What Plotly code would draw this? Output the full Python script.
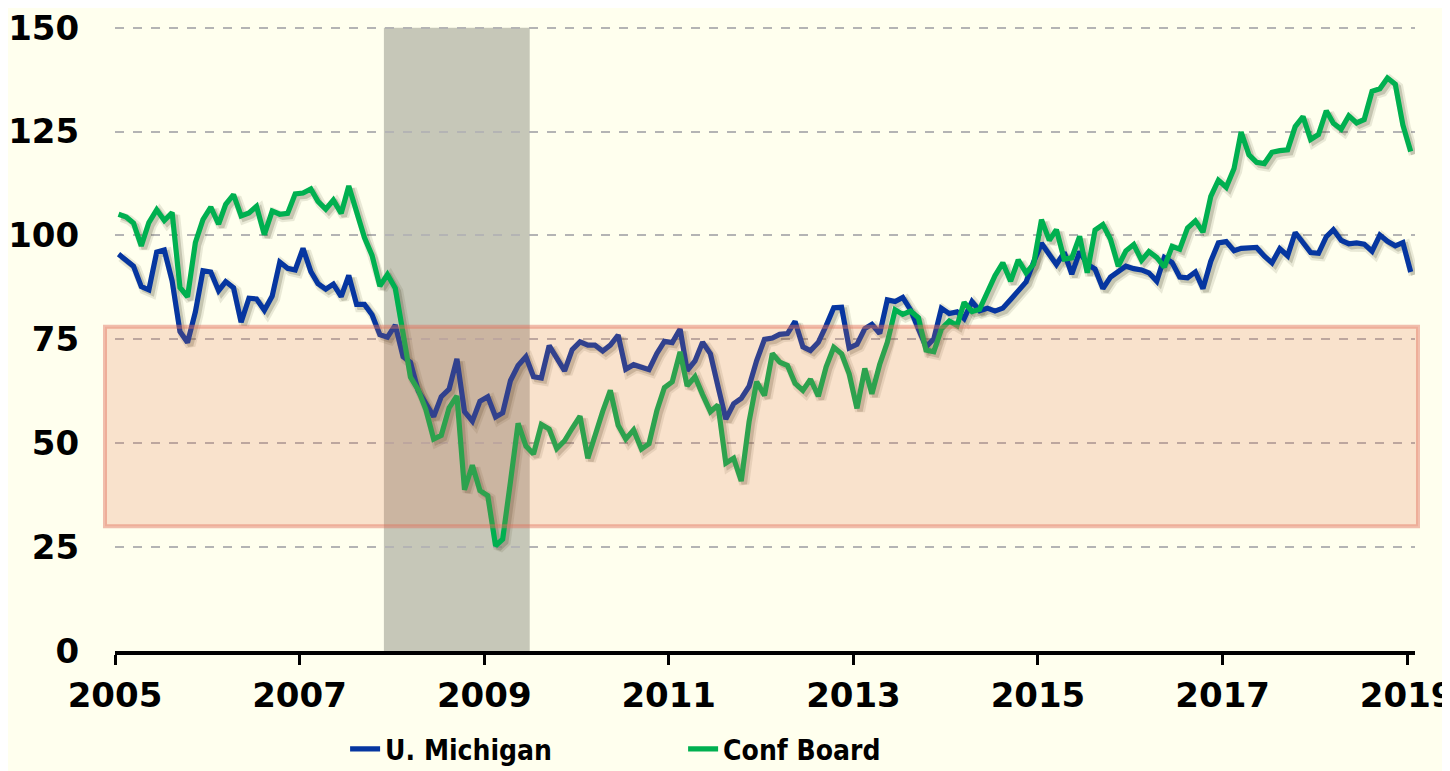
import pandas as pd
import plotly.graph_objects as go

# ---- data (monthly, Jan 2005 - Jan 2019) ----
umich = [
    95.5, 94.1, 92.6, 87.7, 86.9, 96.0, 96.5, 89.1, 76.9, 74.2, 81.6, 91.5,
    91.2, 86.7, 88.9, 87.4, 79.1, 84.9, 84.7, 82.0, 85.4, 93.6, 92.1, 91.7,
    96.9, 91.3, 88.4, 87.1, 88.3, 85.3, 90.4, 83.4, 83.4, 80.9, 76.1, 75.5,
    78.4, 70.8, 69.5, 62.6, 59.8, 56.4, 61.2, 63.0, 70.3, 57.6, 55.3, 60.1,
    61.2, 56.3, 57.3, 65.1, 68.7, 70.8, 66.0, 65.7, 73.5, 70.6, 67.4, 72.5,
    74.4, 73.6, 73.6, 72.2, 73.6, 76.0, 67.8, 68.9, 68.2, 67.7, 71.6, 74.5,
    74.2, 77.5, 67.5, 69.8, 74.3, 71.5, 63.7, 55.8, 59.5, 60.8, 63.7, 69.9,
    75.0, 75.3, 76.2, 76.4, 79.3, 73.2, 72.3, 74.3, 78.3, 82.6, 82.7, 72.9,
    73.8, 77.6, 78.6, 76.4, 84.5, 84.1, 85.1, 82.1, 77.5, 73.2, 75.1, 82.5,
    81.2, 81.6, 80.0, 84.1, 81.9, 82.5, 81.8, 82.5, 84.6, 86.9, 88.8, 93.6,
    98.1, 95.4, 93.0, 95.9, 90.7, 96.1, 93.1, 91.9, 87.2, 90.0, 91.3, 92.6,
    92.0, 91.7, 91.0, 89.0, 94.7, 93.5, 90.0, 89.8, 91.2, 87.2, 93.8, 98.2,
    98.5, 96.3, 96.9, 97.0, 97.1, 95.0, 93.4, 96.8, 95.1, 100.7, 98.5, 95.9,
    95.7, 99.7, 101.4, 98.8, 98.0, 98.2, 97.9, 96.2, 100.1, 98.6, 97.5, 98.3,
    91.2,
]
conf_board = [
    105.1, 104.4, 103.0, 97.5, 103.1, 106.2, 103.6, 105.5, 87.5, 85.2, 98.3, 103.8,
    106.8, 102.7, 107.5, 109.8, 104.7, 105.4, 107.0, 100.2, 105.9, 105.1, 105.3, 110.0,
    110.2, 111.2, 108.2, 106.3, 108.5, 105.3, 111.9, 105.6, 99.5, 95.2, 87.8, 90.6,
    87.3, 76.4, 65.9, 62.8, 58.1, 51.0, 51.9, 58.5, 61.4, 38.8, 44.7, 38.6,
    37.4, 25.3, 26.9, 40.8, 54.8, 49.3, 47.4, 54.5, 53.4, 48.7, 50.6, 53.6,
    56.5, 46.4, 52.3, 57.7, 62.7, 54.3, 51.0, 53.2, 48.6, 49.9, 57.8, 63.4,
    64.8, 72.0, 63.8, 66.0, 61.7, 57.6, 59.2, 45.2, 46.4, 40.9, 55.2, 64.8,
    61.5, 71.6, 69.5, 68.7, 64.4, 62.7, 65.4, 61.3, 68.4, 73.1, 71.5, 66.7,
    58.4, 68.0, 61.9, 69.0, 74.3, 82.1, 81.0, 81.8, 80.2, 72.4, 72.0, 77.5,
    79.4, 78.3, 83.9, 81.7, 82.2, 86.4, 90.3, 93.4, 89.0, 94.1, 91.0, 93.1,
    103.8, 98.8, 101.4, 94.3, 94.6, 99.8, 91.0, 101.3, 102.6, 99.1, 92.6, 96.3,
    97.8, 94.0, 96.1, 94.7, 92.4, 97.4, 96.7, 101.8, 103.5, 100.8, 109.4, 113.3,
    111.6, 116.1, 124.9, 119.4, 117.6, 117.3, 120.0, 120.4, 120.6, 126.2, 128.6, 123.1,
    124.3, 130.0, 127.0, 125.6, 128.8, 127.1, 127.9, 134.7, 135.3, 137.9, 136.4, 126.6,
    120.2,
]
series_names = ["U. Michigan", "Conf Board"]
y_ticks = [0, 25, 50, 75, 100, 125, 150]
x_tick_years = ["2005", "2007", "2009", "2011", "2013", "2015", "2017", "2019"]
recession = ("2007-12-01", "2009-06-30")
band = (30, 78)

dates = pd.date_range("2005-01-01", periods=len(umich), freq="MS") + pd.Timedelta(days=14)

BG = "#FFFFEE"
BLUE = "#0636A0"
GREEN = "#00B050"
FONT = "DejaVu Sans"

x_range = [pd.Timestamp("2005-01-01"), pd.Timestamp("2019-02-01")]
y_range = [0, 150.4]
shift = pd.Timedelta(days=12)

fig = go.Figure()

# soft drop shadows (base axes, slightly shifted range)
for vals in (umich, conf_board):
    fig.add_trace(go.Scatter(x=dates, y=vals, mode="lines", xaxis="x", yaxis="y",
                             line=dict(color="rgba(70,70,40,0.12)", width=10),
                             showlegend=False, hoverinfo="skip"))
    fig.add_trace(go.Scatter(x=dates, y=vals, mode="lines", xaxis="x", yaxis="y",
                             line=dict(color="rgba(70,70,40,0.22)", width=5.5),
                             showlegend=False, hoverinfo="skip"))

# main lines
fig.add_trace(go.Scatter(x=dates, y=umich, mode="lines", name=series_names[0],
                         xaxis="x2", yaxis="y2", line=dict(color=BLUE, width=5.2)))
fig.add_trace(go.Scatter(x=dates, y=conf_board, mode="lines", name=series_names[1],
                         xaxis="x2", yaxis="y2", line=dict(color=GREEN, width=5.2)))

# recession shading
fig.add_shape(type="rect", xref="x2", yref="y2", x0=recession[0], x1=recession[1],
              y0=0, y1=150, fillcolor="#C6C7B8", line=dict(width=0), layer="below")
# highlighted band
fig.add_shape(type="rect", xref="paper", yref="paper", x0=-0.0077, x1=1.0023,
              y0=band[0] / y_range[1], y1=band[1] / y_range[1],
              fillcolor="rgba(225,110,70,0.2)",
              line=dict(color="rgba(225,110,90,0.45)", width=4), layer="above")

fig.update_layout(
    width=1450, height=771,
    margin=dict(l=107, r=43, t=18, b=128, autoexpand=False),
    paper_bgcolor=BG, plot_bgcolor=BG,
    font=dict(family=FONT, color="black", size=34, weight="bold"),
    showlegend=True,
    legend=dict(orientation="h", x=0.177, xanchor="left", y=-0.157, yanchor="middle",
                font=dict(family="DejaVu Sans Condensed, DejaVu Sans",
                          size=28, weight="bold"),
                itemwidth=30, entrywidth=293, entrywidthmode="pixels",
                bgcolor="rgba(0,0,0,0)"),
    xaxis=dict(type="date", range=[x_range[0] - shift, x_range[1] - shift],
               visible=False, fixedrange=True, automargin=False),
    yaxis=dict(range=[y_range[0] + 0.7, y_range[1] + 0.7], visible=False,
               fixedrange=True, automargin=False),
    xaxis2=dict(type="date", overlaying="x", anchor="y2", range=x_range,
                tickvals=[pd.Timestamp(y + "-01-01") for y in x_tick_years],
                ticktext=x_tick_years, automargin=False, ticklabeloverflow="allow",
                ticks="outside", ticklen=10, tickwidth=3, tickcolor="black",
                showline=True, linecolor="black", linewidth=3.5,
                showgrid=False, zeroline=False,
                tickfont=dict(size=34, weight="bold"), ticklabelstandoff=1),
    yaxis2=dict(overlaying="y", anchor="x2", range=y_range, tickvals=y_ticks,
                automargin=False, ticklabeloverflow="allow",
                ticks="outside", ticklen=28, tickcolor="rgba(0,0,0,0)",
                showline=False, zeroline=False,
                showgrid=True, gridcolor="#B4B4B4", gridwidth=1.5, griddash="dash",
                tickfont=dict(size=34, weight="bold")),
)

fig.write_html("out.html")
